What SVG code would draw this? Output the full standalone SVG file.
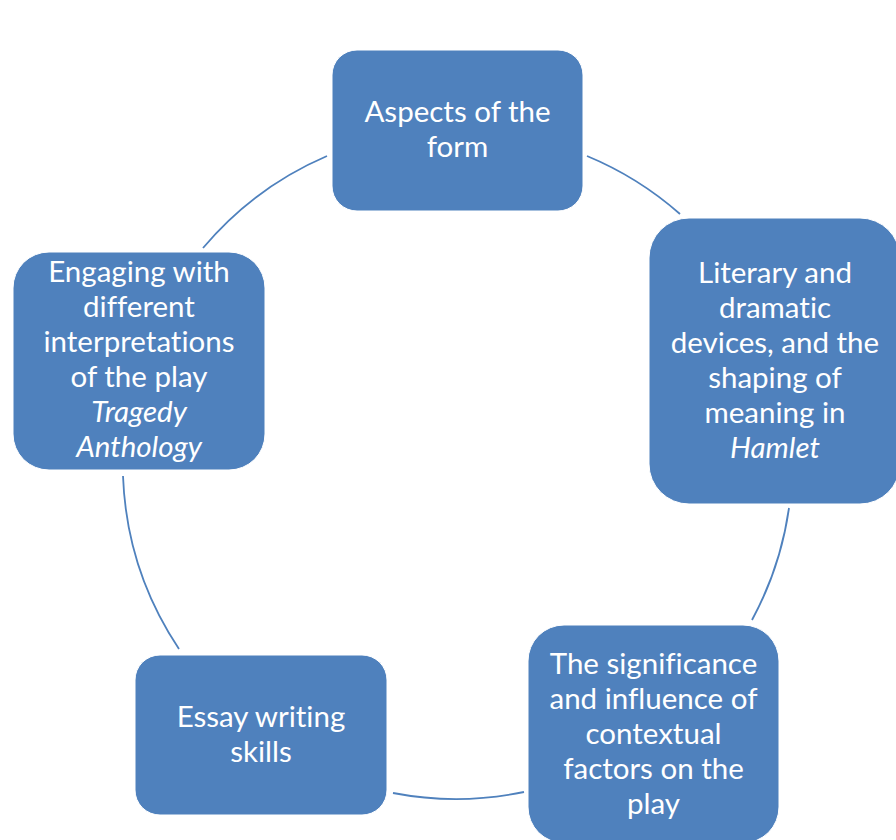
<svg xmlns="http://www.w3.org/2000/svg" width="896" height="840" viewBox="0 0 896 840">
<style>
.box{fill:#4F81BD;stroke:#FFFFFF;stroke-width:1}
.lbl{font-family:Lato,"Open Sans","Liberation Sans",sans-serif;font-size:29.5px;fill:#FFFFFF;text-anchor:middle;font-variant-ligatures:none;font-feature-settings:"liga" 0,"dlig" 0}
.it{font-style:italic}
.arc{fill:none;stroke:#4F81BD;stroke-width:1.8}
</style>
<rect x="0" y="0" width="896" height="840" fill="#FFFFFF"/>
<g id="connectors">
<path class="arc" d="M587,156 A334,334 0 0 1 680,214"/>
<path class="arc" d="M789,508 A334,334 0 0 1 752,620"/>
<path class="arc" d="M524,792 A334,334 0 0 1 393,793"/>
<path class="arc" d="M179,649 A334,334 0 0 1 123,476"/>
<path class="arc" d="M203,248 A334,334 0 0 1 327,156"/>
</g>
<g id="node-form">
<rect class="box" x="332" y="50" width="251" height="161" rx="25"/>
<text class="lbl" x="457.5" y="122">Aspects of the</text>
<text class="lbl" x="457.5" y="157">form</text>
</g>
<g id="node-devices">
<rect class="box" x="649" y="218" width="251" height="286" rx="40"/>
<text class="lbl" x="775" y="283">Literary and</text>
<text class="lbl" x="775" y="318">dramatic</text>
<text class="lbl" x="775" y="353">devices, and the</text>
<text class="lbl" x="775" y="388">shaping of</text>
<text class="lbl" x="775" y="423">meaning in</text>
<text class="lbl it" x="775" y="458">Hamlet</text>
</g>
<g id="node-context">
<rect class="box" x="528" y="625" width="251" height="218" rx="36"/>
<text class="lbl" x="653.5" y="674">The significance</text>
<text class="lbl" x="653.5" y="709">and influence of</text>
<text class="lbl" x="653.5" y="744">contextual</text>
<text class="lbl" x="653.5" y="779">factors on the</text>
<text class="lbl" x="653.5" y="814">play</text>
</g>
<g id="node-essay">
<rect class="box" x="135" y="655" width="252" height="160" rx="25"/>
<text class="lbl" x="261" y="727">Essay writing</text>
<text class="lbl" x="261" y="762">skills</text>
</g>
<g id="node-interpretations">
<rect class="box" x="13" y="252" width="252" height="218" rx="36"/>
<text class="lbl" x="139" y="282">Engaging with</text>
<text class="lbl" x="139" y="317">different</text>
<text class="lbl" x="139" y="352">interpretations</text>
<text class="lbl" x="139" y="387">of the play</text>
<text class="lbl it" x="139" y="422">Tragedy</text>
<text class="lbl it" x="139" y="457">Anthology</text>
</g>
</svg>
